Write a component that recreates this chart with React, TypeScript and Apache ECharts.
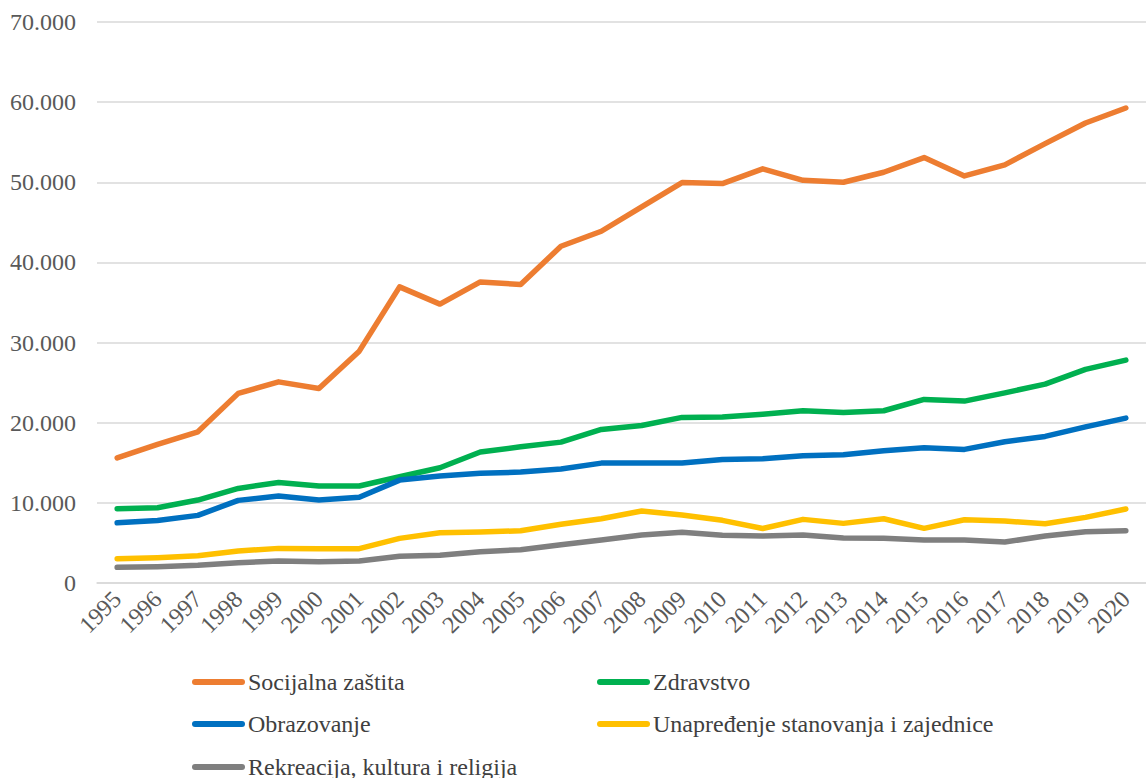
import React, { useEffect, useRef } from "react";
import * as echarts from "echarts";

const years = ["1995","1996","1997","1998","1999","2000","2001","2002","2003","2004","2005","2006","2007","2008","2009","2010","2011","2012","2013","2014","2015","2016","2017","2018","2019","2020"];

const socijalna = [15600,17300,18870,23660,25100,24280,28930,36950,34800,37570,37250,42020,43890,46930,49960,49840,51680,50250,50000,51250,53080,50790,52170,54830,57400,59270];
const zdravstvo = [9270,9390,10350,11800,12550,12100,12100,13260,14380,16340,17000,17580,19160,19660,20660,20700,21060,21490,21280,21490,22900,22700,23730,24810,26650,27810];
const obrazovanje = [7520,7800,8440,10310,10850,10350,10690,12840,13340,13680,13840,14220,14960,14960,14960,15420,15500,15880,16000,16500,16870,16670,17620,18290,19490,20580];
const stanovanje = [3030,3160,3400,3990,4320,4280,4280,5570,6270,6360,6520,7320,8020,8980,8480,7820,6800,7940,7440,8020,6820,7890,7730,7400,8190,9230];
const rekreacija = [1950,2030,2200,2530,2740,2660,2740,3330,3450,3900,4150,4780,5360,5990,6320,5950,5850,5990,5610,5570,5360,5360,5110,5860,6400,6520];

const names = ["Socijalna zaštita","Zdravstvo","Obrazovanje","Unapređenje stanovanja i zajednice","Rekreacija, kultura i religija"];
const colors = ["#ED7D31","#00B050","#0070C0","#FFC000","#7F7F7F"];
const values = [socijalna, zdravstvo, obrazovanje, stanovanje, rekreacija];

const legendPos = [
  { left: 192, top: 670 },
  { left: 597, top: 670 },
  { left: 192, top: 712 },
  { left: 597, top: 712 },
  { left: 192, top: 755 },
];

const font = "Liberation Serif";

export default function App() {
  const ref = useRef<HTMLDivElement>(null);
  useEffect(() => {
    const chart = echarts.init(ref.current!, null, { renderer: "svg" });
    const icon = "path://M3 0H50A3 3 0 0 1 50 6H3A3 3 0 0 1 3 0Z";
    chart.setOption({
      animation: false,
      textStyle: { fontFamily: font },
      grid: { left: 97, right: -12, top: 22, bottom: 195, containLabel: false },
      xAxis: {
        type: "category",
        data: years,
        boundaryGap: true,
        axisLine: { show: true, lineStyle: { color: "#D9D9D9", width: 1.5 } },
        axisTick: { show: false },
        axisLabel: { rotate: 45, fontSize: 24, fontFamily: font, color: "#595959", margin: 12, interval: 0 },
      },
      yAxis: {
        type: "value",
        min: 0,
        max: 70000,
        interval: 10000,
        axisLine: { show: false },
        axisTick: { show: false },
        splitLine: { lineStyle: { color: "#D9D9D9", width: 1.5 } },
        axisLabel: {
          fontSize: 24,
          fontFamily: font,
          color: "#595959",
          margin: 21,
          formatter: (v: number) => (v === 0 ? "0" : String(v).replace(/\B(?=(\d{3})+(?!\d))/g, ".")),
        },
      },
      legend: names.map((n, i) => ({
        data: [n],
        left: legendPos[i].left,
        top: legendPos[i].top,
        padding: 0,
        icon,
        itemWidth: 53,
        itemHeight: 6,
        itemGap: 4,
        textStyle: { fontSize: 24, fontFamily: font, color: "#404040", padding: [0, 0, 0, -2] },
      })),
      series: names.map((n, i) => ({
        name: n,
        type: "line",
        data: values[i],
        symbol: "none",
        lineStyle: { color: colors[i], width: 5.5, cap: "round", join: "round" },
        itemStyle: { color: colors[i] },
      })),
    });
    return () => chart.dispose();
  }, []);
  return <div ref={ref} style={{ position: "fixed", left: 0, top: 0, width: 1146, height: 778, background: "#fff" }} />;
}
